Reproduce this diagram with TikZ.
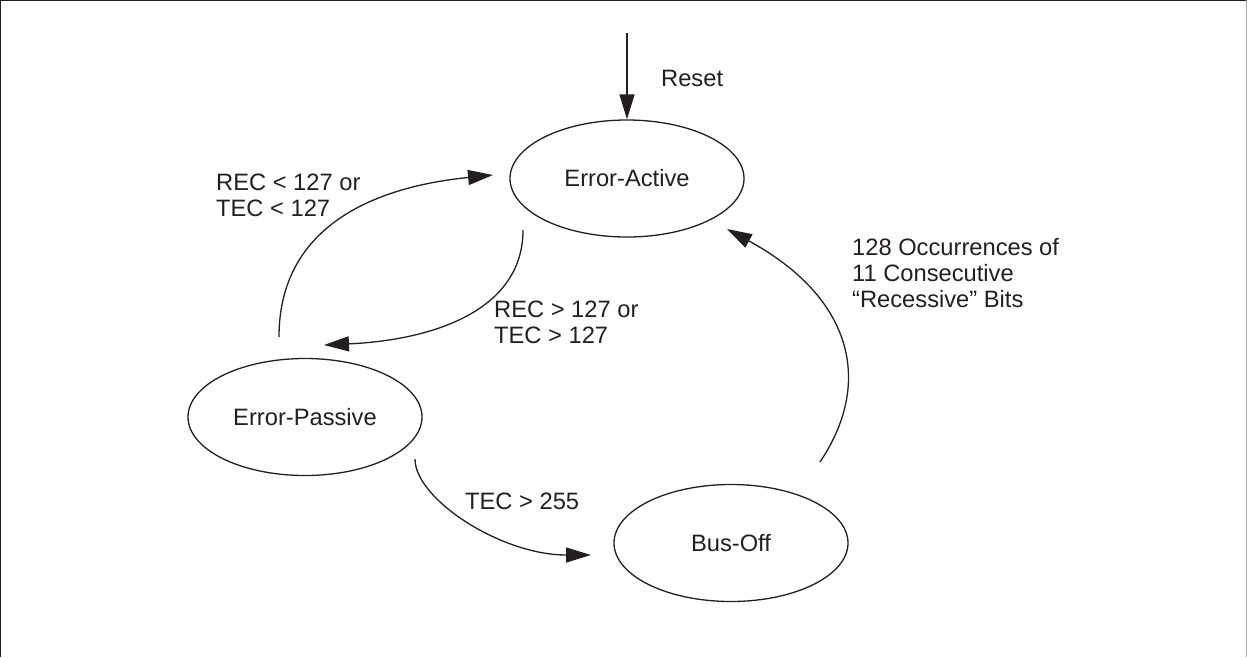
\documentclass[tikz,border=0pt]{standalone}
\usepackage{fontspec}
\setmainfont{Liberation Sans}
\usetikzlibrary{arrows.meta,shapes.geometric}
\definecolor{ink}{HTML}{231F20}
\begin{document}
\begin{tikzpicture}[x=1pt,y=-1pt,
  state/.style={ellipse,draw=ink,line width=1.3pt,minimum width=234pt,minimum height=117pt,inner sep=0pt,text=ink,font=\fontsize{23.7}{26}\selectfont},
  lbl/.style={anchor=base west,inner sep=0pt,align=left,text=ink,font=\fontsize{23.7}{26}\selectfont},
  conn/.style={draw=ink,line width=1.3pt,-{Triangle[length=25pt,width=15pt]}}]
\useasboundingbox (0,0) rectangle (1247,657);
% frame
\draw[ink,line width=2.5pt] (0,657) -- (0,0) -- (1247,0);
\draw[gray!70,line width=2pt] (1247,0) -- (1247,657);
% states
\node[state] (EA) at (627,178.5) {Error-Active};
\node[state] (EP) at (305,417) {Error-Passive};
\node[state] (BO) at (731,543) {Bus-Off};
% free ends
\coordinate (rs) at (627,33);
\coordinate (a1s) at (279,337);
\coordinate (a1e) at (493,175);
\coordinate (a2s) at (523,230);
\coordinate (a2e) at (324,345);
\coordinate (a3s) at (415,459);
\coordinate (a3e) at (591,555);
\coordinate (a4s) at (820,462);
\coordinate (a4e) at (727,229);
% connectors
\draw[conn] (rs) -- (EA);
\draw[conn] (a1s) .. controls (279,227) and (373,187) .. (a1e);
\draw[conn] (a2s) .. controls (523,310) and (434,340) .. (a2e);
\draw[conn] (a3s) .. controls (415,499) and (501,555) .. (a3e);
\draw[conn] (a4s) .. controls (875,380) and (850,296) .. (a4e);
% labels (base = baseline of last line)
\node[lbl] (l1) at (661,86) {Reset};
\node[lbl] (l2) at (216,216) {REC < 127 or\\TEC < 127};
\node[lbl] (l3) at (494,343) {REC > 127 or\\TEC > 127};
\node[lbl] (l4) at (465,509) {TEC > 255};
\node[lbl] (l5) at (852,307) {128 Occurrences of\\11 Consecutive\\“Recessive” Bits};
\end{tikzpicture}
\end{document}
